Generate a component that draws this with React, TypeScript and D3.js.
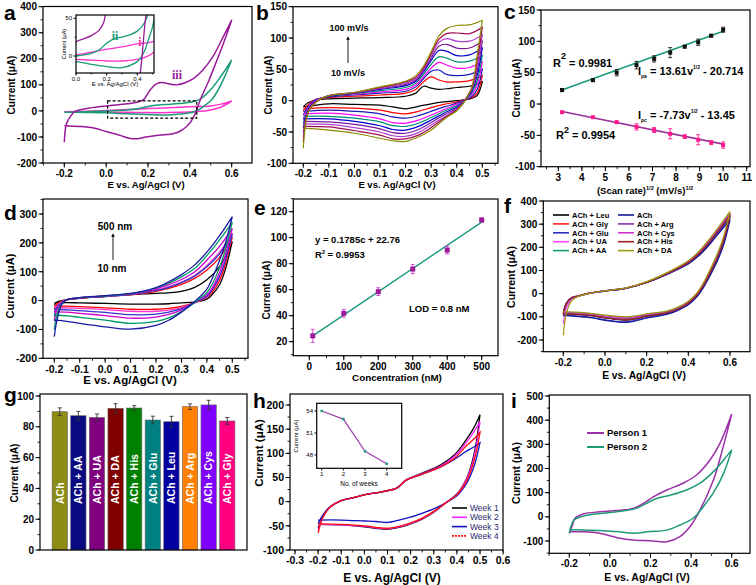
import React from "react";
import * as d3 from "d3";

const FF = "'Liberation Sans', Arial, Helvetica, sans-serif";
type P = [number, number];

// ---------------- Panel a ----------------
const aIiiFwdE = [-0.2, -0.19, -0.17, -0.15, -0.1, 0, 0.1, 0.15, 0.18, 0.21, 0.24, 0.27, 0.3, 0.34, 0.38, 0.42, 0.46, 0.51, 0.56, 0.6];
const aIiiFwdI = [-120, -50, -20, -3, 8, 19, 27, 34, 44, 80, 104, 109, 104, 100, 109, 126, 155, 208, 285, 349];
const aIiiRevE = [0.6, 0.57, 0.53, 0.49, 0.45, 0.42, 0.385, 0.34, 0.29, 0.24, 0.19, 0.15, 0.11, 0.07, 0.0, -0.06, -0.125, -0.2];
const aIiiRevI = [349, 280, 196, 115, 43, -21, -60, -83, -91, -94, -100, -107, -105, -95, -79, -66, -60, -57];
const aIiFwdE = [-0.2, -0.1, 0, 0.1, 0.15, 0.2, 0.25, 0.3, 0.35, 0.4, 0.45, 0.5, 0.55, 0.6];
const aIiFwdI = [-5, -3, 0, 3.5, 8, 17, 23, 25, 28, 33, 45, 82, 135, 196];
const aIiRevE = [0.6, 0.56, 0.52, 0.5, 0.47, 0.45, 0.42, 0.4, 0.3, 0.2, 0.1, 0, -0.1, -0.2];
const aIiRevI = [196, 120, 60, 39, 20, 8, -3, -7.5, -15.5, -14, -11, -7.5, -6, -5];
const aIFwdE = [-0.2, -0.1, 0, 0.1, 0.2, 0.3, 0.4, 0.5, 0.55, 0.6];
const aIFwdI = [-3, -1, 1.3, 5, 9, 12, 16, 19, 26, 38];
const aIRevE = [0.6, 0.55, 0.5, 0.45, 0.4, 0.3, 0.2, 0.1, 0, -0.1, -0.2];
const aIRevI = [38, 15, 3.5, -1.8, -4.4, -6.6, -6.6, -5.5, -4.4, -3.5, -3];
const aBoxE = [0.007, 0.433];
const aBoxI = [-27.7, 38.7];

// ---------------- Panel b ----------------
const bRates = ["10 mV/s", "100 mV/s"];
const bColors = ["#000000", "#ff0000", "#1a1ab0", "#ff00ff", "#009070", "#0000cc", "#7a1a9a", "#b040d0", "#a01050", "#8a8a00"];
const bFwdE = [-0.2, -0.18, -0.15, -0.1, 0, 0.1, 0.2, 0.24, 0.27, 0.3, 0.33, 0.36, 0.4, 0.45, 0.5];
const bFwdI = [
  [-10, -3, 1, 3, 4, 5, 7, 12, 23, 20, 18, 19, 21, 23, 30],
  [-16, -6, 2, 5, 7, 9, 12, 18, 30, 38, 33, 30, 30, 32, 40],
  [-23, -9, 2, 6, 9, 12, 15, 22, 35, 47, 49, 42, 40, 42, 50],
  [-30, -11, 1, 7, 10, 14, 18, 25, 38, 52, 61, 57, 52, 53, 62],
  [-37, -13, 0, 7, 11, 16, 21, 28, 42, 58, 70, 68, 62, 63, 72],
  [-44, -14, 0, 7, 12, 18, 24, 31, 46, 64, 80, 79, 72, 73, 84],
  [-51, -15, -1, 8, 12, 19, 26, 33, 48, 68, 87, 90, 84, 84, 95],
  [-58, -16, -1, 8, 13, 20, 28, 35, 50, 72, 93, 99, 95, 95, 105],
  [-66, -17, -2, 8, 13, 21, 30, 37, 52, 75, 98, 107, 108, 107, 117],
  [-76, -18, -2, 8, 13, 22, 31, 40, 55, 78, 103, 115, 120, 121, 128],
];
const bRevE = [0.5, 0.48, 0.46, 0.44, 0.42, 0.4, 0.35, 0.3, 0.25, 0.2, 0.15, 0.1, 0, -0.1, -0.2];
const bRevI = [
  [30, 8, 4, 2, 1, 0, -2, -5, -9, -13, -10, -7, -6, -5, -10],
  [40, 12, 5, 2, 0, -2, -6, -11, -17, -21, -19, -15, -12, -11, -13],
  [50, 18, 7, 2, -1, -4, -10, -17, -24, -28, -26, -21, -17, -15, -17],
  [62, 25, 10, 3, -2, -6, -14, -23, -31, -36, -35, -29, -23, -20, -21],
  [72, 32, 13, 3, -3, -8, -17, -27, -36, -41, -40, -34, -28, -25, -25],
  [84, 40, 16, 4, -4, -10, -20, -31, -41, -47, -46, -40, -33, -29, -29],
  [95, 48, 19, 5, -5, -12, -23, -35, -46, -52, -51, -45, -38, -34, -33],
  [105, 55, 20, 5, -6, -14, -26, -39, -51, -57, -56, -50, -43, -38, -37],
  [117, 63, 22, 6, -7, -15, -28, -43, -55, -61, -61, -55, -48, -42, -41],
  [128, 73, 22, 5, -7, -16, -30, -47, -58, -65, -64, -60, -52, -47, -44],
];

// ---------------- Panel c ----------------
const cSqrtRate = [3.16, 4.47, 5.48, 6.32, 7.07, 7.75, 8.37, 8.94, 9.49, 10.0];
const cIpa = [22.3, 38, 50, 62, 72, 82, 91.5, 98.5, 109, 118.5];
const cIpaErr = [2.5, 2, 5, 6, 5, 8, 2, 5, 2, 4];
const cIpc = [-13, -21, -29, -36.5, -41.5, -47.5, -52, -57, -61.5, -65.5];
const cIpcErr = [1, 1, 2, 5, 4, 8, 3, 8, 3, 5];
const cFitX = [3.16, 10.0];
const cFitA = [22.3, 116];
const cFitC = [-12, -64];

// ---------------- Panel d ----------------
const dConc = ["10 nm", "500 nm"];
const dColors = ["#000000", "#ff0000", "#ff33cc", "#3333cc", "#cc00cc", "#009966", "#1a1aa6"];
const dFwdE = [-0.2, -0.19, -0.17, -0.15, -0.1, 0, 0.1, 0.15, 0.2, 0.25, 0.3, 0.35, 0.4, 0.45, 0.5];
const dFwdI = [
  [-15, -5, 0, 3, 8, 14, 20, 23, 25, 27, 32, 45, 72, 118, 205],
  [-30, -12, -2, 3, 9, 15, 21, 26, 32, 42, 56, 76, 106, 150, 220],
  [-40, -18, -4, 3, 9, 15, 22, 28, 36, 48, 64, 86, 122, 168, 235],
  [-55, -25, -6, 3, 9, 15, 22, 28, 35, 46, 62, 84, 117, 162, 230],
  [-70, -35, -8, 3, 10, 16, 23, 30, 40, 55, 73, 98, 140, 188, 250],
  [-100, -50, -10, 3, 10, 16, 24, 32, 44, 60, 82, 110, 156, 210, 272],
  [-125, -70, -12, 3, 10, 17, 25, 33, 45, 65, 90, 122, 168, 225, 291],
];
const dRevE = [0.5, 0.47, 0.45, 0.42, 0.4, 0.35, 0.3, 0.25, 0.2, 0.1, 0, -0.1, -0.15, -0.2];
const dRevI = [
  [205, 100, 55, 20, 5, -5, -8, -11, -12, -12, -10, -8, -7, -8],
  [220, 118, 70, 28, 12, -8, -20, -27, -30, -30, -25, -21, -19, -18],
  [235, 132, 82, 34, 14, -8, -24, -33, -37, -37, -31, -27, -25, -24],
  [230, 132, 84, 36, 15, -8, -28, -40, -47, -49, -41, -35, -32, -30],
  [250, 150, 98, 42, 20, -8, -32, -48, -57, -61, -52, -44, -40, -38],
  [272, 168, 115, 55, 28, -8, -38, -60, -72, -79, -68, -58, -53, -50],
  [291, 190, 140, 75, 40, -5, -40, -68, -86, -99, -91, -79, -72, -68],
];

// ---------------- Panel e ----------------
const eConc = [10, 100, 200, 300, 400, 500];
const eCur = [24.5, 41.8, 58.5, 75.9, 90.5, 113.6];
const eErr = [5, 3, 3, 3.5, 3, 1.5];
const eFitX = [10, 500];
const eFitY = [24.5, 112];

// ---------------- Panel f ----------------
const fNames = ["ACh + Leu", "ACh + Gly", "ACh + Glu", "ACh + UA", "ACh + AA", "ACh", "ACh + Arg", "ACh + Cys", "ACh + His", "ACh + DA"];
const fColors = ["#000000", "#ff2020", "#3030c0", "#ff44ff", "#10a070", "#1a1a99", "#8833aa", "#cc33cc", "#992222", "#9a9a10"];
const fFwdE = [-0.2, -0.185, -0.16, -0.13, -0.08, 0, 0.1, 0.2, 0.3, 0.4, 0.45, 0.5, 0.55, 0.6];
const fFwdI = [
  [-88, -45, -20, -11, 0, 11, 23, 48, 86, 133, 170, 220, 277, 335],
  [-85, -42, -18, -10, 1, 12, 24, 50, 88, 136, 174, 225, 283, 343],
  [-90, -44, -19, -11, 0, 11, 23, 48, 85, 130, 166, 214, 270, 325],
  [-130, -62, -25, -12, 0, 12, 24, 50, 89, 138, 177, 228, 288, 348],
  [-95, -47, -20, -11, 0, 11, 23, 49, 87, 135, 172, 222, 280, 340],
  [-80, -40, -17, -10, 1, 12, 24, 48, 84, 128, 163, 210, 265, 318],
  [-88, -44, -19, -10, 1, 12, 24, 49, 87, 135, 173, 223, 281, 341],
  [-92, -46, -20, -11, 0, 12, 24, 50, 89, 138, 177, 228, 287, 348],
  [-86, -43, -18, -10, 1, 12, 24, 49, 87, 134, 171, 221, 278, 337],
  [-180, -85, -30, -13, 0, 12, 25, 52, 92, 142, 182, 234, 294, 355],
];
const fRevE = [0.6, 0.57, 0.54, 0.5, 0.47, 0.44, 0.4, 0.35, 0.3, 0.2, 0.14, 0.1, 0.05, 0, -0.06, -0.14, -0.2];
const fRevI = [
  [335, 228, 155, 80, 30, -8, -42, -67, -83, -98, -110, -114, -111, -105, -96, -90, -88],
  [343, 236, 162, 86, 35, -4, -39, -64, -80, -94, -106, -109, -106, -101, -92, -86, -84],
  [325, 220, 148, 74, 26, -12, -46, -70, -87, -103, -116, -122, -119, -113, -103, -96, -93],
  [348, 240, 166, 89, 38, -2, -37, -62, -77, -90, -101, -104, -101, -96, -88, -83, -80],
  [340, 233, 160, 84, 34, -5, -40, -65, -81, -96, -108, -111, -108, -103, -94, -88, -86],
  [318, 212, 142, 70, 23, -15, -48, -72, -89, -106, -119, -124, -121, -115, -105, -98, -95],
  [341, 235, 161, 85, 34, -5, -40, -65, -81, -96, -107, -111, -108, -102, -94, -88, -86],
  [348, 241, 167, 90, 39, -2, -37, -62, -77, -90, -100, -103, -100, -95, -88, -82, -80],
  [337, 230, 157, 82, 31, -7, -41, -66, -82, -97, -109, -113, -110, -104, -95, -89, -87],
  [355, 248, 174, 96, 43, 2, -33, -58, -74, -87, -97, -100, -97, -93, -86, -80, -78],
];

// ---------------- Panel g ----------------
const gLabels = ["ACh", "ACh + AA", "ACh + UA", "ACh + DA", "ACh + His", "ACh + Glu", "ACh + Leu", "ACh + Arg", "ACh + Cys", "ACh + Gly"];
const gValues = [89.8, 87.2, 86.1, 92, 92.2, 84.4, 83.3, 93.1, 94.2, 83.8];
const gErr = [2.5, 2.8, 2.2, 3, 1.5, 2.5, 3.5, 1.8, 3, 2.2];
const gColors = ["#8c8c14", "#0a0a80", "#800080", "#800000", "#008000", "#008080", "#0000a0", "#ff8000", "#8000ff", "#ff0080"];

// ---------------- Panel h ----------------
const hNames = ["Week 1", "Week 2", "Week 3", "Week 4"];
const hColors = ["#000000", "#ff22ff", "#1010c0", "#ff1010"];
const hFwdE = [-0.2, -0.18, -0.15, -0.1, -0.05, 0, 0.08, 0.14, 0.18, 0.25, 0.33, 0.39, 0.44, 0.47, 0.5];
const hFwdI = [
  [-55, -31, -12, 2, 8, 14, 21, 28, 45, 59, 76, 97, 128, 150, 180],
  [-60, -32, -12, 2, 8, 14, 21, 28, 45, 58, 74, 94, 122, 142, 165],
  [-45, -28, -11, 2, 8, 14, 21, 28, 44, 57, 72, 88, 104, 112, 122],
  [-65, -33, -12, 2, 8, 14, 21, 28, 44, 57, 72, 90, 115, 128, 143],
];
const hRevE = [0.5, 0.48, 0.46, 0.44, 0.4, 0.35, 0.3, 0.25, 0.2, 0.15, 0.1, 0.05, 0, -0.1, -0.2];
const hRevI = [
  [180, 112, 72, 46, 16, -3, -22, -36, -46, -53, -57, -55, -52, -48, -47],
  [165, 105, 68, 44, 15, -3, -21, -35, -45, -52, -56, -54, -51, -48, -47],
  [122, 82, 55, 36, 12, -3, -15, -24, -32, -38, -43, -41, -40, -38, -38],
  [143, 95, 63, 41, 14, -3, -20, -34, -44, -51, -55, -53, -50, -47, -46],
];
const hWeeks = [1, 2, 3, 4];
const hWeekCur = [54.0, 52.9, 48.5, 46.8];

// ---------------- Panel i ----------------
const iNames = ["Person 1", "Person 2"];
const iColors = ["#9b30a8", "#1f9a78"];
const iP1FwdE = [-0.2, -0.185, -0.172, -0.131, -0.05, 0.033, 0.115, 0.165, 0.214, 0.28, 0.36, 0.427, 0.493, 0.542, 0.6];
const iP1FwdI = [-68, -35, -6, 12, 21, 26, 35, 56, 83, 111, 139, 173, 235, 304, 425];
const iP1RevE = [0.6, 0.555, 0.51, 0.444, 0.394, 0.345, 0.28, 0.197, 0.115, 0.05, -0.05, -0.13, -0.2];
const iP1RevI = [425, 280, 152, 28, -41, -82, -103, -99, -96, -89, -68, -62, -62];
const iP2FwdE = [-0.2, -0.177, -0.131, -0.049, 0.033, 0.13, 0.18, 0.23, 0.3, 0.378, 0.444, 0.51, 0.56, 0.6];
const iP2FwdI = [-68, -13, 3, 14, 21, 35, 56, 76, 90, 111, 139, 187, 235, 277];
const iP2RevE = [0.6, 0.56, 0.51, 0.46, 0.41, 0.345, 0.28, 0.197, 0.115, 0.033, -0.049, -0.13, -0.2];
const iP2RevI = [277, 180, 100, 42, -6, -34, -55, -61, -68, -61, -57, -54, -54];

// ---------------- helpers ----------------
const f1 = (v: number) => (Math.abs(v) < 1e-9 ? "0.0" : v.toFixed(1));
const f0 = (v: number) => String(Math.round(v));
const rng = (a: number, b: number, s: number) => d3.range(Math.round(a / s), Math.round(b / s) + 1).map((k) => +(k * s).toFixed(6));

function cv(xs: any, ys: any, fe: number[], fi: number[], re: number[], ri: number[]) {
  const pts: P[] = fe.map((e, i) => [e, fi[i]] as P).concat(re.map((e, i) => [e, ri[i]] as P));
  return (
    d3
      .line<P>()
      .x((d) => xs(d[0]))
      .y((d) => ys(d[1]))
      .curve(d3.curveCatmullRom.alpha(0.5))(pts) || ""
  );
}

function Axes(props: any) {
  const { l, t, r, b, xs, ys, xt = [], xm = [], yt = [], ym = [], xf = f0, yf = f0, fs = 10, fw = "bold", tl = 4.5 } = props;
  const inX = (v: number) => xs(v) >= l - 0.5 && xs(v) <= r + 0.5;
  const inY = (v: number) => ys(v) >= t - 0.5 && ys(v) <= b + 0.5;
  return (
    <g fontFamily={FF} fontWeight={fw} fontSize={fs} fill="#000">
      {xm.filter(inX).map((v: number, i: number) => (
        <line key={"xm" + i} x1={xs(v)} x2={xs(v)} y1={b} y2={b + tl * 0.55} stroke="#000" strokeWidth={0.9} />
      ))}
      {xt.map((v: number, i: number) => (
        <g key={"xt" + i}>
          <line x1={xs(v)} x2={xs(v)} y1={b} y2={b + tl} stroke="#000" strokeWidth={1} />
          <text x={xs(v)} y={b + tl + fs * 0.95} textAnchor="middle">{xf(v)}</text>
        </g>
      ))}
      {ym.filter(inY).map((v: number, i: number) => (
        <line key={"ym" + i} x1={l - tl * 0.55} x2={l} y1={ys(v)} y2={ys(v)} stroke="#000" strokeWidth={0.9} />
      ))}
      {yt.map((v: number, i: number) => (
        <g key={"yt" + i}>
          <line x1={l - tl} x2={l} y1={ys(v)} y2={ys(v)} stroke="#000" strokeWidth={1} />
          <text x={l - tl - 1.5} y={ys(v) + fs * 0.36} textAnchor="end">{yf(v)}</text>
        </g>
      ))}
      <rect x={l} y={t} width={r - l} height={b - t} fill="none" stroke="#000" strokeWidth={1.2} />
    </g>
  );
}

const XT = ({ x, y, fs = 10, children }: any) => (
  <text x={x} y={y} textAnchor="middle" fontFamily={FF} fontWeight="bold" fontSize={fs}>{children}</text>
);
const YT = ({ x, y, fs = 10, fw = "bold", children }: any) => (
  <text transform={`translate(${x},${y}) rotate(-90)`} textAnchor="middle" dy="0.35em" fontFamily={FF} fontWeight={fw} fontSize={fs}>{children}</text>
);
const PL = ({ x, y, s }: any) => (
  <text x={x} y={y} fontFamily={FF} fontWeight="bold" fontSize={21}>{s}</text>
);
const CUR = "Current (\u03bcA)";
const EVS = "E vs. Ag/AgCl (V)";

export default function App() {
  // scales
  const aX = d3.scaleLinear().domain([-0.2, 0.6]).range([64.3, 231.7]);
  const aY = d3.scaleLinear().domain([-200, 400]).range([163, 6.7]);
  const aiX = d3.scaleLinear().domain([0, 0.4]).range([76, 137.3]);
  const aiY = d3.scaleLinear().domain([0, 50]).range([56, 18.3]);
  const bX = d3.scaleLinear().domain([-0.2, 0.5]).range([303.3, 482.3]);
  const bY = d3.scaleLinear().domain([-100, 150]).range([163.3, 6.7]);
  const cX = d3.scaleLinear().domain([3, 11]).range([558.3, 746.7]);
  const cY = d3.scaleLinear().domain([-100, 150]).range([166.7, 10]);
  const dX = d3.scaleLinear().domain([-0.2, 0.5]).range([54.3, 232.3]);
  const dY = d3.scaleLinear().domain([-200, 300]).range([358.3, 214]);
  const eX = d3.scaleLinear().domain([0, 500]).range([309.3, 481.7]);
  const eY = d3.scaleLinear().domain([20, 120]).range([341.7, 211.7]);
  const fX = d3.scaleLinear().domain([-0.2, 0.6]).range([563.3, 730]);
  const fY = d3.scaleLinear().domain([-200, 400]).range([340, 201]);
  const gX = d3.scaleBand<string>().domain(gLabels).range([40, 247]).paddingInner(0.177).paddingOuter(0.65);
  const gY = d3.scaleLinear().domain([0, 100]).range([550, 396]);
  const hX = d3.scaleLinear().domain([-0.3, 0.5]).range([295, 480]);
  const hY = d3.scaleLinear().domain([-100, 200]).range([550, 405]);
  const hiX = d3.scaleLinear().domain([1, 4]).range([321.7, 386.7]);
  const hiY = d3.scaleLinear().domain([48, 54]).range([455, 411]);
  const iX = d3.scaleLinear().domain([-0.2, 0.6]).range([569.3, 731.7]);
  const iY = d3.scaleLinear().domain([-100, 500]).range([541, 396]);

  const clips: [string, number, number, number, number][] = [
    ["ca", 43, 6.5, 252, 163],
    ["cai", 76, 15, 154, 73],
    ["cb", 293, 6.7, 498, 163.3],
    ["cc", 541, 10, 750, 166.7],
    ["cd", 43, 199, 248, 358.3],
    ["ce", 293.3, 199, 498, 355.7],
    ["cf", 543.3, 201, 750, 351.7],
    ["ch", 290, 394, 503, 550],
    ["ci", 549.3, 395, 750, 553.3],
  ];

  const sq = (x: number, y: number, s: number, fill: string, key: string) => (
    <rect key={key} x={x - s / 2} y={y - s / 2} width={s} height={s} fill={fill} />
  );
  const eb = (x: number, y0: number, y1: number, w: number, col: string, key: string) => (
    <g key={key} stroke={col} strokeWidth={0.9}>
      <line x1={x} x2={x} y1={y0} y2={y1} />
      <line x1={x - w} x2={x + w} y1={y0} y2={y0} />
      <line x1={x - w} x2={x + w} y1={y1} y2={y1} />
    </g>
  );

  return (
    <svg width={756} height={585} style={{ position: "absolute", left: 0, top: 0, background: "#fff" }}>
      <defs>
        {clips.map(([id, l, t, r, b]) => (
          <clipPath id={id} key={id}>
            <rect x={l} y={t} width={r - l} height={b - t} />
          </clipPath>
        ))}
        <marker id="arr" viewBox="0 0 10 10" refX="5" refY="5" markerWidth="4" markerHeight="4" orient="auto">
          <path d="M0,0 L10,5 L0,10 z" fill="#000" />
        </marker>
      </defs>
      <rect width={756} height={585} fill="#fff" />

      {/* ===== a ===== */}
      <g clipPath="url(#ca)" fill="none" strokeWidth={1.5}>
        <path d={cv(aX, aY, aIFwdE, aIFwdI, aIRevE, aIRevI)} stroke="#ff33cc" />
        <path d={cv(aX, aY, aIiFwdE, aIiFwdI, aIiRevE, aIiRevI)} stroke="#1a9a78" />
        <path d={cv(aX, aY, aIiiFwdE, aIiiFwdI, aIiiRevE, aIiiRevI)} stroke="#991a99" />
        <rect x={aX(aBoxE[0])} y={aY(aBoxI[1])} width={aX(aBoxE[1]) - aX(aBoxE[0])} height={aY(aBoxI[0]) - aY(aBoxI[1])} stroke="#000" strokeWidth={1.2} strokeDasharray="3,2" />
      </g>
      <Axes l={43} t={6.5} r={252} b={163} xs={aX} ys={aY} xt={[-0.2, 0, 0.2, 0.4, 0.6]} xm={rng(-0.3, 0.7, 0.1)} yt={rng(-200, 400, 100)} ym={rng(-200, 400, 50)} xf={f1} />
      <XT x={146} y={188} fs={9.5}>{EVS}</XT>
      <YT x={11} y={85} fs={10}>{CUR}</YT>
      <PL x={4} y={20} s="a" />
      {/* inset */}
      <rect x={76} y={15} width={78} height={58} fill="#fff" />
      <g clipPath="url(#cai)" fill="none" strokeWidth={1.3}>
        <path d={cv(aiX, aiY, aIFwdE, aIFwdI, aIRevE, aIRevI)} stroke="#ff33cc" />
        <path d={cv(aiX, aiY, aIiFwdE, aIiFwdI, aIiRevE, aIiRevI)} stroke="#1a9a78" />
        <path d={cv(aiX, aiY, aIiiFwdE, aIiiFwdI, aIiiRevE, aIiiRevI)} stroke="#991a99" />
      </g>
      <Axes l={76} t={15} r={154} b={73} xs={aiX} ys={aiY} xt={[0, 0.2, 0.4]} xm={rng(0, 0.5, 0.1)} yt={[0, 50]} ym={[25]} xf={f1} fs={6} fw="normal" tl={2.5} />
      <XT x={115} y={86} fs={6}>
        <tspan fontWeight="normal">{EVS}</tspan>
      </XT>
      <YT x={64} y={44} fs={5.5} fw="normal">{CUR}</YT>
      <text x={115} y={40} fontFamily="'Liberation Serif', 'Times New Roman', serif" fontWeight="bold" fontSize={12} fill="#1a9a78" textAnchor="middle">ii</text>
      <text x={140} y={46} fontFamily="'Liberation Serif', 'Times New Roman', serif" fontWeight="bold" fontSize={12} fill="#ff3399" textAnchor="middle">i</text>
      <text x={177} y={79} fontFamily="'Liberation Serif', 'Times New Roman', serif" fontWeight="bold" fontSize={12} fill="#991a99" textAnchor="middle">iii</text>

      {/* ===== b ===== */}
      <g clipPath="url(#cb)" fill="none" strokeWidth={1.2}>
        {bFwdI.map((fi, k) => (
          <path key={k} d={cv(bX, bY, bFwdE, fi, bRevE, bRevI[k])} stroke={bColors[k]} />
        ))}
      </g>
      <Axes l={293} t={6.7} r={498} b={163.3} xs={bX} ys={bY} xt={rng(-0.2, 0.5, 0.1)} xm={rng(-0.25, 0.55, 0.05)} yt={rng(-100, 150, 50)} ym={rng(-100, 150, 25)} xf={f1} />
      <XT x={397} y={188} fs={9.5}>{EVS}</XT>
      <YT x={268} y={85} fs={10}>{CUR}</YT>
      <PL x={256} y={20} s="b" />
      <text x={349} y={31} textAnchor="middle" fontFamily={FF} fontWeight="bold" fontSize={9}>{bRates[1]}</text>
      <text x={348} y={76} textAnchor="middle" fontFamily={FF} fontWeight="bold" fontSize={9}>{bRates[0]}</text>
      <line x1={348} x2={348} y1={63} y2={38} stroke="#000" strokeWidth={0.9} markerEnd="url(#arr)" />

      {/* ===== c ===== */}
      <g clipPath="url(#cc)">
        <line x1={cX(cFitX[0])} x2={cX(cFitX[1])} y1={cY(cFitA[0])} y2={cY(cFitA[1])} stroke="#1a9a7c" strokeWidth={1.6} />
        <line x1={cX(cFitX[0])} x2={cX(cFitX[1])} y1={cY(cFitC[0])} y2={cY(cFitC[1])} stroke="#993399" strokeWidth={1.6} />
        {cSqrtRate.map((x, i) => eb(cX(x), cY(cIpa[i] - cIpaErr[i]), cY(cIpa[i] + cIpaErr[i]), 2, "#222", "ea" + i))}
        {cSqrtRate.map((x, i) => eb(cX(x), cY(cIpc[i] - cIpcErr[i]), cY(cIpc[i] + cIpcErr[i]), 2, "#ff1a8c", "ec" + i))}
        {cSqrtRate.map((x, i) => sq(cX(x), cY(cIpa[i]), 4, "#111", "sa" + i))}
        {cSqrtRate.map((x, i) => sq(cX(x), cY(cIpc[i]), 4, "#ff1a8c", "sc" + i))}
      </g>
      <Axes l={541} t={10} r={750} b={166.7} xs={cX} ys={cY} xt={rng(3, 11, 1)} xm={rng(2.5, 11, 0.5)} yt={rng(-100, 150, 50)} ym={rng(-100, 150, 25)} />
      <text x={645} y={194} textAnchor="middle" fontFamily={FF} fontWeight="bold" fontSize={9.5}>
        (Scan rate)<tspan dy={-4} fontSize={5.5}>1/2</tspan>
        <tspan dy={4}> (mV/s)</tspan>
        <tspan dy={-4} fontSize={5.5}>1/2</tspan>
      </text>
      <YT x={516} y={88} fs={10}>{CUR}</YT>
      <PL x={504} y={19} s="c" />
      <g fontFamily={FF} fontWeight="bold" fontSize={11}>
        <text x={553} y={67}>R<tspan dy={-8} fontSize={9}>2</tspan><tspan dy={8}> = 0.9981</tspan></text>
        <text x={638} y={75}>I<tspan dy={3} fontSize={5}>pa</tspan><tspan dy={-3}> = 13.61v</tspan><tspan dy={-6} fontSize={5}>1/2</tspan><tspan dy={6}> - 20.714</tspan></text>
        <text x={638} y={119}>I<tspan dy={3} fontSize={5}>pc</tspan><tspan dy={-3}> = -7.73v</tspan><tspan dy={-6} fontSize={5}>1/2</tspan><tspan dy={6}> - 13.45</tspan></text>
        <text x={556} y={139}>R<tspan dy={-6} fontSize={9}>2</tspan><tspan dy={6}> = 0.9954</tspan></text>
      </g>

      {/* ===== d ===== */}
      <g clipPath="url(#cd)" fill="none" strokeWidth={1.3}>
        {dFwdI.map((fi, k) => (
          <path key={k} d={cv(dX, dY, dFwdE, fi, dRevE, dRevI[k])} stroke={dColors[k]} />
        ))}
      </g>
      <Axes l={43} t={199} r={248} b={358.3} xs={dX} ys={dY} xt={rng(-0.2, 0.5, 0.1)} xm={rng(-0.25, 0.55, 0.05)} yt={rng(-200, 300, 100)} ym={rng(-200, 350, 50)} xf={f1} fs={10.5} />
      <XT x={130} y={384} fs={11.5}>{EVS}</XT>
      <YT x={10} y={286} fs={11}>{CUR}</YT>
      <PL x={4} y={220} s="d" />
      <text x={115} y={230} textAnchor="middle" fontFamily={FF} fontWeight="bold" fontSize={10}>{dConc[1]}</text>
      <text x={112} y={272} textAnchor="middle" fontFamily={FF} fontWeight="bold" fontSize={10}>{dConc[0]}</text>
      <line x1={113} x2={113} y1={260} y2={235} stroke="#000" strokeWidth={0.9} markerEnd="url(#arr)" />

      {/* ===== e ===== */}
      <g clipPath="url(#ce)">
        <line x1={eX(eFitX[0])} x2={eX(eFitX[1])} y1={eY(eFitY[0])} y2={eY(eFitY[1])} stroke="#1a9a80" strokeWidth={1.4} />
        {eConc.map((x, i) => eb(eX(x), eY(eCur[i] - eErr[i]), eY(eCur[i] + eErr[i]), 2, "#d040d0", "ee" + i))}
        {eConc.map((x, i) => sq(eX(x), eY(eCur[i]), 5, "#9a1a9a", "se" + i))}
      </g>
      <Axes l={293.3} t={199} r={498} b={355.7} xs={eX} ys={eY} xt={rng(0, 500, 100)} xm={rng(-50, 550, 50)} yt={rng(20, 120, 20)} ym={rng(10, 130, 10)} />
      <XT x={397} y={381} fs={9.8}>Concentration (nM)</XT>
      <YT x={266} y={290} fs={10}>{CUR}</YT>
      <PL x={254} y={215} s="e" />
      <g fontFamily={FF} fontWeight="bold" fontSize={9.5}>
        <text x={315} y={243}>y  = 0.1785c + 22.76</text>
        <text x={315} y={258}>R<tspan dy={-4} fontSize={5.5}>2</tspan><tspan dy={4}> = 0.9953</tspan></text>
        <text x={409} y={312}>LOD =  0.8 nM</text>
      </g>

      {/* ===== f ===== */}
      <g clipPath="url(#cf)" fill="none" strokeWidth={1.2}>
        {fFwdI.map((fi, k) => (
          <path key={k} d={cv(fX, fY, fFwdE, fi, fRevE, fRevI[k])} stroke={fColors[k]} />
        ))}
      </g>
      <Axes l={543.3} t={201} r={750} b={351.7} xs={fX} ys={fY} xt={rng(-0.2, 0.6, 0.2)} xm={rng(-0.3, 0.7, 0.1)} yt={rng(-200, 400, 100)} ym={rng(-250, 400, 50)} xf={f1} />
      <XT x={644} y={379} fs={10.3}>{EVS}</XT>
      <YT x={511} y={277} fs={10.5}>{CUR}</YT>
      <PL x={504} y={213} s="f" />
      <g fontFamily={FF} fontWeight="bold" fontSize={7.5}>
        {fNames.map((n, k) => {
          const col = k < 5 ? 0 : 1;
          const row = k % 5;
          const lx = col === 0 ? 553 : 618;
          const y = 215 + row * 8.9;
          return (
            <g key={n}>
              <line x1={lx} x2={lx + 16} y1={y} y2={y} stroke={fColors[k]} strokeWidth={1.6} />
              <text x={lx + 19} y={y + 2.7}>{n}</text>
            </g>
          );
        })}
      </g>

      {/* ===== g ===== */}
      <g>
        {gLabels.map((n, i) => (
          <g key={n}>
            <rect x={gX(n)} y={gY(gValues[i])} width={gX.bandwidth()} height={gY(0) - gY(gValues[i])} fill={gColors[i]} stroke="#666" strokeWidth={0.6} />
            {eb((gX(n) as number) + gX.bandwidth() / 2, gY(gValues[i] - gErr[i]), gY(gValues[i] + gErr[i]), 2, "#333", "ge" + i)}
            <text transform={`translate(${(gX(n) as number) + gX.bandwidth() / 2},504) rotate(-90)`} dy="0.36em" fill="#fff" fontFamily={FF} fontWeight="bold" fontSize={10.5}>{n}</text>
          </g>
        ))}
      </g>
      <Axes l={40} t={394} r={247} b={550} xs={d3.scaleLinear().domain([0, 1]).range([40, 247])} ys={gY} yt={rng(0, 100, 20)} ym={rng(0, 100, 10)} />
      <YT x={14} y={473} fs={10}>{CUR}</YT>
      <PL x={4} y={402} s="g" />

      {/* ===== h ===== */}
      <g clipPath="url(#ch)" fill="none" strokeWidth={1.3}>
        {hFwdI.map((fi, k) => (
          <path key={k} d={cv(hX, hY, hFwdE, fi, hRevE, hRevI[k])} stroke={hColors[k]} />
        ))}
      </g>
      <Axes l={290} t={394} r={503} b={550} xs={hX} ys={hY} xt={rng(-0.3, 0.6, 0.1)} xm={rng(-0.3, 0.6, 0.05)} yt={rng(-100, 200, 50)} ym={rng(-100, 225, 25)} xf={f1} fs={10.5} />
      <XT x={392} y={582} fs={12}>{EVS}</XT>
      <YT x={259} y={453} fs={11.5}>{CUR}</YT>
      <PL x={253} y={408} s="h" />
      {/* inset */}
      <path d={d3.line<P>().x((d) => hiX(d[0])).y((d) => hiY(d[1]))(hWeeks.map((w, i) => [w, hWeekCur[i]] as P)) || ""} fill="none" stroke="#a040b0" strokeWidth={1.2} />
      {hWeeks.map((w, i) => sq(hiX(w), hiY(hWeekCur[i]), 2.5, "#1a9a78", "hw" + i))}
      <Axes l={316.7} t={403.3} r={401.7} b={468.3} xs={hiX} ys={hiY} xt={hWeeks} xm={[]} yt={[48, 51, 54]} ym={[]} fs={6} fw="normal" tl={2.2} />
      <XT x={359} y={486} fs={6.5}>
        <tspan fontWeight="normal">No. of weeks</tspan>
      </XT>
      <YT x={296} y={436} fs={6} fw="normal">{CUR}</YT>
      <g fontFamily={FF} fontSize={8.5} fill="#2a2a6a">
        {hNames.map((n, k) => {
          const y = 508 + k * 9.3;
          return (
            <g key={n}>
              <line x1={452} x2={467} y1={y} y2={y} stroke={hColors[k]} strokeWidth={1.6} strokeDasharray={k === 3 ? "2,1" : undefined} />
              <text x={470} y={y + 3}>{n}</text>
            </g>
          );
        })}
      </g>

      {/* ===== i ===== */}
      <g clipPath="url(#ci)" fill="none" strokeWidth={1.5}>
        <path d={cv(iX, iY, iP1FwdE, iP1FwdI, iP1RevE, iP1RevI)} stroke={iColors[0]} />
        <path d={cv(iX, iY, iP2FwdE, iP2FwdI, iP2RevE, iP2RevI)} stroke={iColors[1]} />
      </g>
      <Axes l={549.3} t={395} r={750} b={553.3} xs={iX} ys={iY} xt={rng(-0.2, 0.6, 0.2)} xm={rng(-0.3, 0.7, 0.1)} yt={rng(-100, 500, 100)} ym={rng(-150, 500, 50)} xf={f1} />
      <XT x={647} y={581} fs={10.5}>{EVS}</XT>
      <YT x={516} y={473} fs={10.5}>{CUR}</YT>
      <PL x={511} y={408} s="i" />
      <g fontFamily={FF} fontWeight="bold" fontSize={9.5}>
        {iNames.map((n, k) => {
          const y = 433 + k * 14;
          return (
            <g key={n}>
              <line x1={587} x2={604} y1={y} y2={y} stroke={iColors[k]} strokeWidth={2} />
              <text x={607} y={y + 3.4}>{n}</text>
            </g>
          );
        })}
      </g>
    </svg>
  );
}
